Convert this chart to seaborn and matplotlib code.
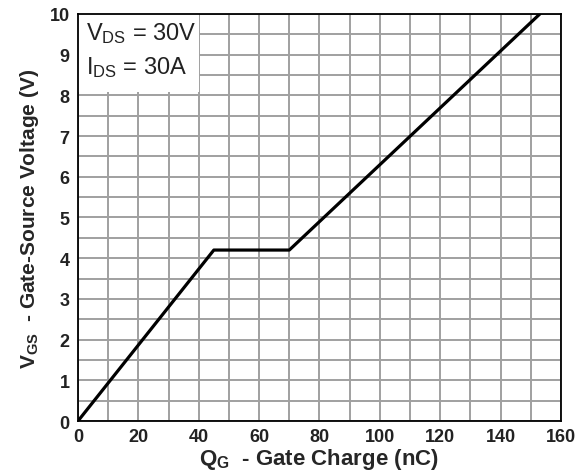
import matplotlib
matplotlib.use("Agg")
import matplotlib.pyplot as plt
import seaborn as sns
import pandas as pd
from matplotlib.patches import Rectangle

# Gate charge curve breakpoints
gate_charge_nc = [0, 45, 70, 153]
gate_voltage_v = [0, 4.2, 4.2, 10]
x_ticks = [0, 20, 40, 60, 80, 100, 120, 140, 160]
y_ticks = [0, 1, 2, 3, 4, 5, 6, 7, 8, 9, 10]

sns.set_theme(style="white")
plt.rcParams["font.family"] = ["Liberation Sans", "DejaVu Sans"]
plt.rcParams["mathtext.default"] = "regular"

df = pd.DataFrame({"Qg": gate_charge_nc, "Vgs": gate_voltage_v})

fig = plt.figure(figsize=(5.86, 4.77), dpi=100)
ax = fig.add_axes([0.1331, 0.1153, 0.8242, 0.8533])

sns.lineplot(data=df, x="Qg", y="Vgs", ax=ax, color="black", lw=2.3,
             zorder=4, sort=False)

ax.set_xlim(0, 160)
ax.set_ylim(0, 10)
ax.set_xticks(x_ticks)
ax.set_yticks(y_ticks)
ax.set_xticks(range(0, 161, 10), minor=True)
ax.set_yticks([i * 0.5 for i in range(21)], minor=True)
ax.grid(True, which="both", color="#a0a0a0", lw=1.4, zorder=1)
ax.set_axisbelow(True)

for s in ax.spines.values():
    s.set_color("black")
    s.set_linewidth(1.3)
    s.set_zorder(5)

ax.tick_params(which="both", length=0)
ax.tick_params(axis="x", pad=5, labelsize=13)
ax.tick_params(axis="y", pad=6, labelsize=13)
for lab in ax.get_xticklabels() + ax.get_yticklabels():
    lab.set_fontweight("bold")
    lab.set_color("#222222")

# White panel behind the test conditions
ax.add_patch(Rectangle((0, 8.08), 40, 1.92, facecolor="white",
                       edgecolor="none", zorder=2))
ax.text(2.5, 9.55, "V$_{DS}$ = 30V", fontsize=17, va="center", ha="left",
        color="#222222", zorder=3)
ax.text(2.5, 8.7, "I$_{DS}$ = 30A", fontsize=17, va="center", ha="left",
        color="#222222", zorder=3)

label_font = ["Liberation Sans Narrow", "Liberation Sans", "DejaVu Sans"]
ax.set_xlabel("Q$_{G}$  - Gate Charge (nC)", fontsize=16, fontweight="bold",
              family=label_font, labelpad=1)
ax.set_ylabel("V$_{GS}$  - Gate-Source Voltage (V)", fontsize=15,
              fontweight="bold", family=label_font, labelpad=6)

fig.savefig("out.png", dpi=100, facecolor="white")
